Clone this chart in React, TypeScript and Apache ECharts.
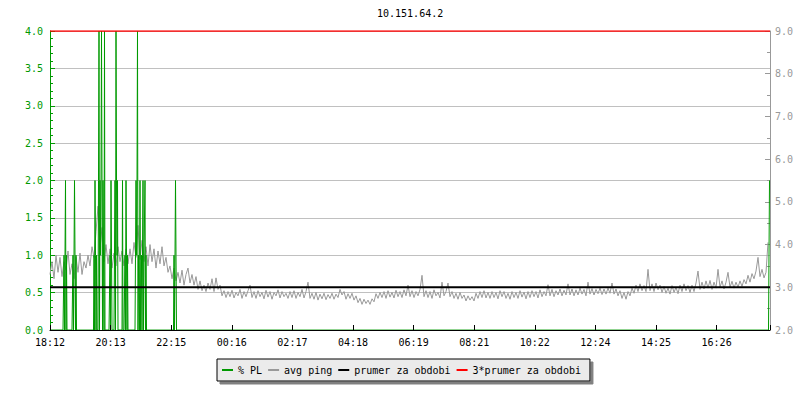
import React, { useEffect, useRef } from "react";
import * as echarts from "echarts";

const chartTitle = "10.151.64.2";
const xTickLabels = ["18:12", "20:13", "22:15", "00:16", "02:17", "04:18", "06:19", "08:21", "10:22", "12:24", "14:25", "16:26"];
const tickStepMinutes = 121.2;
const spanMinutes = 1440;
const pingStepMinutes = 4;

// avg ping (right axis, ms) sampled every 4 minutes from 18:12
const avgPing = [
  3.3, 3.6, 3.2, 3.75, 3.35, 3.7, 3.25, 3.6, 3.4, 3.85, 3.3, 3.55, 3.2, 3.7, 3.35, 3.8, 3.3, 3.6, 3.45, 3.75,
  3.5, 3.95, 3.7, 4.3, 4.9, 3.9, 4.4, 3.6, 4.0, 3.55, 3.9, 3.45, 3.8, 3.5, 3.95, 3.6, 3.85, 3.5, 3.9, 3.55,
  3.9, 3.55, 4.05, 3.7, 4.45, 3.65, 4.1, 3.6, 3.95, 3.5, 4.0, 3.6, 3.9, 3.45, 3.85, 3.55, 3.95, 3.5, 3.7, 3.35,
  3.5, 3.2, 3.45, 3.15, 3.35, 3.1, 3.4, 3.05, 3.3, 3.45, 3.1, 3.3, 3.05, 3.25, 2.95, 3.15, 2.92, 3.05, 2.9, 3.1,
  2.95, 3.2, 2.9, 3.22, 2.95, 3.05, 2.8, 2.92, 2.76, 2.9, 2.78, 2.93, 2.75, 2.88, 2.8, 2.95, 2.74, 2.9, 2.78, 2.92,
  3.05, 2.76, 2.9, 2.74, 2.92, 2.78, 2.88, 2.73, 2.93, 2.77, 2.9, 2.72, 2.88, 2.8, 2.94, 2.75, 2.9, 2.78, 2.86, 2.74,
  2.9, 2.76, 2.92, 2.74, 2.88, 2.78, 2.95, 2.75, 2.9, 3.12, 2.74, 2.86, 2.72, 2.88, 2.7, 2.84, 2.73, 2.86, 2.71, 2.83,
  2.74, 2.86, 2.72, 2.84, 2.76, 2.95, 2.82, 2.9, 2.72, 2.85, 2.74, 2.86, 2.7, 2.8, 2.64, 2.74, 2.6, 2.72, 2.62, 2.7,
  2.6, 2.73, 2.66, 2.85, 2.74, 2.88, 2.76, 2.9, 2.74, 2.92, 2.77, 2.88, 2.75, 2.93, 2.78, 2.9, 2.76, 2.94, 2.8, 3.05,
  2.78, 2.92, 2.76, 2.9, 2.8, 2.95, 3.28, 2.78, 2.92, 2.76, 2.9, 2.74, 2.94, 2.8, 2.88, 2.75, 3.12, 2.8, 2.9, 3.1,
  2.78, 2.9, 2.74, 2.86, 2.72, 2.88, 2.74, 2.82, 2.68, 2.8, 2.7, 2.78, 2.68, 2.86, 2.74, 2.9, 2.76, 2.92, 2.75, 2.88,
  2.74, 2.9, 2.76, 2.88, 2.73, 2.92, 2.78, 2.9, 2.74, 2.86, 2.72, 2.9, 2.76, 2.88, 2.74, 2.92, 2.77, 2.89, 2.73, 2.9,
  2.76, 2.92, 2.78, 2.9, 2.75, 2.94, 2.78, 2.9, 2.8, 3.06, 2.8, 2.95, 2.78, 2.92, 2.82, 2.96, 2.8, 2.93, 2.82, 3.08,
  2.82, 2.96, 2.8, 2.94, 2.82, 2.98, 2.84, 2.95, 2.8, 3.12, 2.84, 2.97, 2.82, 2.95, 2.85, 2.98, 2.83, 2.96, 2.84, 2.98,
  2.86, 3.1, 2.84, 2.96, 2.8, 2.92, 2.74, 2.88, 2.72, 2.9, 2.8, 2.98, 2.86, 3.05, 2.9, 3.08, 2.92, 3.04, 2.9, 3.42,
  2.92, 3.08, 2.9, 3.1, 2.94, 3.05, 2.88, 3.02, 2.86, 2.98, 2.84, 3.04, 2.88, 3.0, 2.85, 3.05, 2.9, 3.08, 2.92, 3.04,
  2.88, 3.05, 2.9, 3.1, 3.38, 2.95, 3.12, 2.96, 3.15, 2.98, 3.16, 2.95, 3.12, 2.98, 3.42, 3.0, 3.15, 2.96, 3.12, 3.35,
  3.0, 3.14, 2.98, 3.12, 3.0, 3.15, 3.02, 3.18, 3.08, 3.28, 3.12, 3.32, 3.2, 3.38, 3.7, 3.25, 3.42, 3.22, 3.35, 4.05,
];

// % packet loss bursts: [start minute from 18:12, per-minute values]; all other minutes are 0
const plBursts: [number, number[]][] = [
  [28, [1, 0, 1, 2, 0, 1]],
  [46, [1, 0, 1, 2, 1, 0, 1]],
  [88, [1, 0, 2, 1, 0, 1]],
  [97, [2, 4, 0, 2, 1, 2, 4, 2, 0, 2, 1, 0, 4]],
  [120, [1, 0, 2, 1]],
  [130, [2, 0, 4, 2, 1, 2]],
  [145, [2]],
  [150, [1, 0, 2, 1, 0, 1]],
  [172, [2, 1, 2, 4, 0, 1, 1, 0, 2]],
  [183, [1, 0, 1, 2, 0, 1, 1, 2, 0, 1]],
  [248, [1, 0, 1, 2, 1]],
  [1439, [2]],
];

const periodMean = 3.0;
const legendNames = ["% PL", "avg ping", "prumer za obdobi", "3*prumer za obdobi"];

const FONT = "DejaVu Sans Mono, monospace";
const GREEN = "#009900";
const GRAY = "#999999";

export default function App() {
  const ref = useRef<HTMLDivElement>(null);
  useEffect(() => {
    if (!ref.current) return;
    const chart = echarts.init(ref.current, undefined, { renderer: "svg" });

    const pingData = avgPing.map((v, i) => [i * pingStepMinutes, v]);
    const plMinutes: number[] = new Array(spanMinutes).fill(0);
    plBursts.forEach(([start, vals]) => {
      vals.forEach((v, k) => {
        if (start + k < spanMinutes) plMinutes[start + k] = v;
      });
    });
    const plData = plMinutes.map((v, m) => [m, v]);

    chart.setOption({
      animation: false,
      backgroundColor: "#ffffff",
      title: {
        text: chartTitle,
        left: 377,
        top: 8,
        padding: 0,
        textStyle: { fontSize: 10, fontWeight: "normal", fontFamily: FONT, color: "#000" },
      },
      grid: { left: 50, right: 30, top: 31, bottom: 70 },
      legend: {
        data: legendNames,
        left: 217,
        top: 359,
        orient: "horizontal",
        padding: [6, 9, 6, 5],
        itemWidth: 11,
        itemHeight: 2,
        itemGap: 6,
        icon: "rect",
        backgroundColor: "#ebebeb",
        borderColor: "#000",
        borderWidth: 1,
        borderRadius: 0,
        shadowColor: "#808080",
        shadowOffsetX: 3,
        shadowOffsetY: 3,
        shadowBlur: 0,
        selectedMode: false,
        textStyle: { color: "#000", fontFamily: FONT, fontSize: 10 },
      },
      xAxis: {
        type: "value",
        min: 0,
        max: spanMinutes,
        interval: tickStepMinutes,
        z: 6,
        axisLine: { show: true, lineStyle: { color: "#000", width: 1 } },
        axisTick: { show: true, inside: true, length: 5, lineStyle: { color: "#000" } },
        axisLabel: {
          color: "#000",
          fontFamily: FONT,
          fontSize: 10,
          margin: 7,
          formatter: (v: number) => xTickLabels[Math.round(v / tickStepMinutes)] ?? "",
        },
        splitLine: { show: false },
      },
      yAxis: [
        {
          type: "value",
          position: "left",
          min: 0,
          max: 4,
          interval: 0.5,
          axisLine: { show: true, lineStyle: { color: GREEN } },
          axisTick: { show: true, inside: true, length: 5, lineStyle: { color: GREEN } },
          minorTick: { show: true, splitNumber: 5, length: 3, lineStyle: { color: GREEN } },
          axisLabel: {
            color: GREEN,
            fontFamily: FONT,
            fontSize: 10,
            margin: 7,
            formatter: (v: number) => v.toFixed(1),
          },
          splitLine: { show: true, lineStyle: { color: "#c0c0c0", width: 1 } },
        },
        {
          type: "value",
          position: "right",
          min: 2,
          max: 9,
          interval: 1,
          axisLine: { show: true, lineStyle: { color: GRAY } },
          axisTick: { show: true, inside: true, length: 5, lineStyle: { color: GRAY } },
          minorTick: { show: true, splitNumber: 2, length: 3, lineStyle: { color: GRAY } },
          axisLabel: {
            color: GRAY,
            fontFamily: FONT,
            fontSize: 10,
            margin: 5,
            formatter: (v: number) => v.toFixed(1),
          },
          splitLine: { show: false },
        },
      ],
      series: [
        {
          name: "avg ping",
          type: "line",
          yAxisIndex: 1,
          data: pingData,
          showSymbol: false,
          symbol: "none",
          lineStyle: { color: GRAY, width: 1 },
          itemStyle: { color: GRAY },
          z: 2,
        },
        {
          name: "% PL",
          type: "line",
          yAxisIndex: 0,
          data: plData,
          showSymbol: false,
          symbol: "none",
          lineStyle: { color: GREEN, width: 1 },
          itemStyle: { color: GREEN },
          z: 3,
        },
        {
          name: "prumer za obdobi",
          type: "line",
          yAxisIndex: 1,
          data: [
            [0, periodMean],
            [spanMinutes, periodMean],
          ],
          showSymbol: false,
          symbol: "none",
          lineStyle: { color: "#000", width: 2 },
          itemStyle: { color: "#000" },
          z: 4,
        },
        {
          name: "3*prumer za obdobi",
          type: "line",
          yAxisIndex: 1,
          data: [
            [0, 3 * periodMean],
            [spanMinutes, 3 * periodMean],
          ],
          showSymbol: false,
          symbol: "none",
          lineStyle: { color: "#ff0000", width: 1.5 },
          itemStyle: { color: "#ff0000" },
          z: 4,
        },
      ],
    });
    return () => chart.dispose();
  }, []);

  return (
    <div
      ref={ref}
      style={{ position: "fixed", left: 0, top: 0, width: 800, height: 400, background: "#fff" }}
    />
  );
}
